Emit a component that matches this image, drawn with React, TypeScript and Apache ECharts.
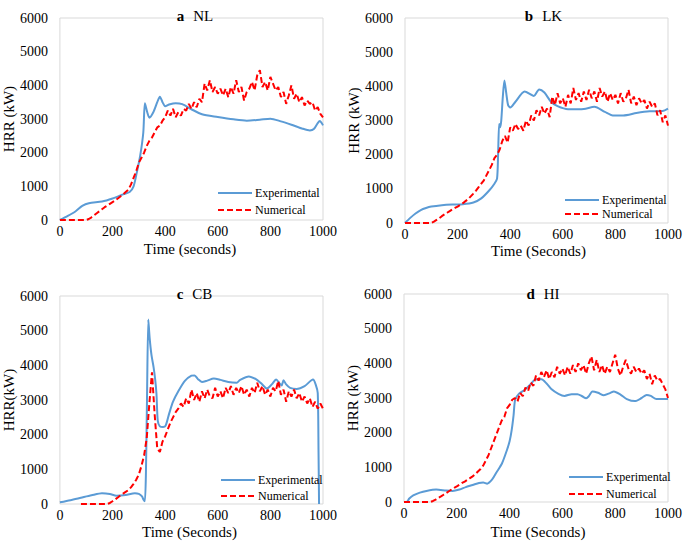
import React, { useEffect, useRef } from "react";
import * as echarts from "echarts";

// Sample times (s) for numerical series: 0,10,...,1000
const numStep = 10;

// Panel titles
const panelLetters = ["a", "b", "c", "d"];
const panelNames = ["NL", "LK", "CB", "HI"];
const xNames = ["Time (seconds)", "Time (Seconds)", "Time (Seconds)", "Time (Seconds)"];
const yNames = ["HRR (kW)", "HRR (kW)", "HRR(kW)", "HRR (kW)"];
const xTicks = [0, 200, 400, 600, 800, 1000];
const yTicks = [0, 1000, 2000, 3000, 4000, 5000, 6000];

// Experimental [time, HRR]
const expA = [[0,0],[30,120],[60,260],[85,420],[110,500],[160,550],[200,640],[240,760],[265,830],[280,1000],[292,1400],[305,1900],[317,2600],[323,3470],[332,3200],[340,3040],[355,3200],[370,3500],[380,3660],[390,3500],[400,3380],[415,3430],[440,3470],[465,3440],[500,3290],[540,3140],[600,3060],[660,2990],[710,2950],[760,2980],[800,3010],[840,2930],[880,2830],[920,2720],[950,2660],[965,2700],[980,2880],[988,2940],[995,2880],[1000,2810]];
const expB = [[0,0],[20,150],[40,280],[60,380],[80,440],[100,480],[140,520],[180,540],[220,550],[260,600],[290,720],[320,950],[340,1150],[350,1300],[354,2000],[358,2900],[362,2800],[366,3000],[372,3700],[378,4170],[385,3800],[392,3450],[400,3380],[420,3550],[455,3850],[490,3720],[510,3910],[530,3820],[555,3550],[580,3420],[620,3330],[680,3340],[720,3400],[760,3250],[790,3150],[830,3150],[880,3220],[930,3270],[980,3280],[1000,3350]];
const expC = [[0,50],[40,110],[80,180],[120,250],[160,310],[190,290],[215,240],[250,260],[285,310],[300,290],[312,220],[318,120],[323,80],[327,900],[331,3000],[336,5320],[341,4800],[348,4300],[356,3950],[362,3600],[367,3180],[372,2400],[380,2240],[392,2220],[402,2260],[415,2600],[430,2950],[450,3250],[475,3550],[500,3700],[512,3710],[525,3600],[540,3520],[560,3560],[585,3620],[610,3580],[640,3520],[672,3500],[685,3580],[718,3680],[745,3600],[765,3480],[787,3330],[805,3450],[822,3590],[835,3480],[843,3420],[850,3570],[860,3450],[875,3350],[900,3320],[930,3400],[962,3590],[972,3450],[980,3200],[983,1500],[985,0]];
const expD = [[0,0],[10,0],[20,100],[35,190],[60,270],[85,320],[122,360],[160,330],[184,320],[210,360],[234,430],[260,490],[284,550],[300,560],[315,530],[334,650],[350,850],[371,1110],[390,1500],[400,1750],[408,2080],[415,2500],[421,2950],[435,3120],[458,3240],[480,3400],[496,3530],[521,3540],[540,3420],[558,3260],[585,3120],[608,3060],[635,3110],[657,3110],[675,3050],[690,2990],[700,3050],[714,3190],[735,3150],[757,3080],[780,3140],[795,3190],[820,3100],[844,2970],[875,2910],[900,3000],[919,3090],[935,3060],[956,2970],[1000,2970]];

// Numerical HRR every 10 s from 0 to 1000
const numA = [0,0,0,0,0,0,0,0,0,0,0,30,80,140,200,260,320,380,430,480,530,580,640,700,760,830,900,1050,1250,1450,1700,1850,2000,2200,2350,2450,2600,2750,2800,2950,3050,3250,3100,3300,3050,3200,3100,3300,3250,3450,3300,3500,3350,3600,3500,4050,3850,4150,3800,3950,3750,3900,3700,3900,3650,3950,3750,4150,3800,3950,3550,3800,3900,4100,3850,4300,4450,3950,4100,3850,4250,4050,3850,3950,3650,3800,3450,3700,4000,3600,3750,3500,3650,3400,3550,3450,3500,3250,3350,3150,3050];
const numB = [0,0,0,0,0,0,0,0,0,0,0,40,90,140,200,250,300,350,400,440,480,530,580,640,700,780,860,950,1050,1150,1250,1400,1550,1700,1900,2000,2150,2400,2550,2350,2800,2700,2900,2750,2850,2700,3000,2850,3150,3000,3300,3150,3400,3200,3350,3100,3700,3450,3800,3500,3650,3400,3750,3500,3950,3600,3800,3550,3850,3600,3900,3650,3850,3550,3950,3700,3850,3550,3800,3600,3750,3500,3800,3550,3650,3900,3500,3700,3450,3650,3500,3600,3350,3550,3400,3500,3150,3300,2950,3150,2850];
const numC = [null,null,null,null,null,null,null,null,0,0,0,0,0,0,0,0,0,0,0,30,80,130,190,250,300,350,400,480,580,700,850,1100,1400,1900,2900,3800,2600,1600,1500,1800,1950,2150,2350,2500,2650,2750,2900,2800,3050,2900,3300,3000,3200,2950,3250,3050,3300,3100,3050,3350,3100,3250,3050,3350,3200,3400,3150,3350,3200,3400,3150,3300,3100,3350,3200,3500,3250,3400,3150,3300,3100,3350,3250,3550,3150,3300,2950,3250,3100,3300,3050,3200,2950,3100,2900,3050,2800,2950,2750,2900,2750];
const numD = [0,0,0,0,0,0,0,0,0,0,0,30,70,120,160,210,260,310,360,410,450,500,550,590,640,690,740,800,880,950,1050,1200,1350,1550,1750,1950,2150,2350,2450,2700,2800,2950,3000,2900,3150,3050,3300,3200,3450,3350,3650,3500,3750,3600,3800,3550,3750,3600,3900,3700,3850,3650,3900,3700,3950,3750,4000,3800,3950,3700,4000,4200,3800,4100,3750,3950,3700,3900,3750,4000,4250,3850,3650,3900,4100,3850,3700,3900,3750,3850,3700,3800,3550,3700,3400,3650,3500,3550,3400,3250,3000];

const expSets = [expA, expB, expC, expD];
const numSets = [numA, numB, numC, numD];

// layout (pixels)
const grids = [
  { left: 57, top: 18, width: 266, height: 202 },
  { left: 405, top: 18, width: 267, height: 205 },
  { left: 56, top: 296, width: 267, height: 208 },
  { left: 404, top: 294, width: 268, height: 208 },
];
const titleTops = [2, 2, 280, 280];
const xNameCenters = [249, 251, 532, 532];
const legendPos = [
  { left: 217, top: 187, gap: 5 },
  { left: 564, top: 194, gap: 2 },
  { left: 220, top: 474, gap: 4 },
  { left: 568, top: 471, gap: 5 },
];

const FONT = "Liberation Serif";
const BLUE = "#5B9BD5";
const RED = "#FF0000";

const tickRich = { t: { fontFamily: FONT, fontSize: 14, fontWeight: "normal", color: "#000" } };
const nameRich = { n: { fontFamily: FONT, fontSize: 15, fontWeight: "normal", color: "#000" } };
const legRich = { l: { fontFamily: FONT, fontSize: 12, fontWeight: "normal", color: "#000", lineHeight: 12 } };

export default function App() {
  const ref = useRef<HTMLDivElement>(null);
  useEffect(() => {
    if (!ref.current) return;
    const chart = echarts.init(ref.current, null, { renderer: "svg" });
    const option: any = {
      animation: false,
      backgroundColor: "#ffffff",
      textStyle: { fontFamily: FONT },
      title: grids.map((g, i) => ({
        text: `{b|${panelLetters[i]}}  {n|${panelNames[i]}}`,
        left: g.left + g.width / 2,
        top: titleTops[i],
        textAlign: "center",
        textStyle: {
          fontFamily: FONT,
          rich: {
            b: { fontFamily: FONT, fontSize: 15, fontWeight: "bold", color: "#000" },
            n: { fontFamily: FONT, fontSize: 15, fontWeight: "normal", color: "#000" },
          },
        },
      })),
      graphic: grids.map((g, i) => ({
        type: "text",
        x: g.left + g.width / 2,
        y: xNameCenters[i],
        style: {
          text: xNames[i],
          fontFamily: FONT,
          fontSize: 15,
          fontWeight: "normal",
          fill: "#000",
          align: "center",
          verticalAlign: "middle",
        },
      })),
      grid: grids.map((g) => ({
        left: g.left,
        top: g.top,
        width: g.width,
        height: g.height,
        show: true,
        borderColor: "#d9d9d9",
        borderWidth: 1,
        backgroundColor: "transparent",
      })),
      xAxis: grids.map((_, i) => ({
        type: "value",
        gridIndex: i,
        min: xTicks[0],
        max: xTicks[xTicks.length - 1],
        interval: 200,
        axisLine: { show: false },
        axisTick: { show: false },
        splitLine: { show: false },
        axisLabel: {
          fontFamily: FONT,
          fontSize: 14,
          color: "#000",
          margin: 4,
          rich: tickRich,
          formatter: (v: number) => `{t|${v}}`,
        },
      })),
      yAxis: grids.map((_, i) => ({
        type: "value",
        gridIndex: i,
        min: yTicks[0],
        max: yTicks[yTicks.length - 1],
        interval: 1000,
        name: `{n|${yNames[i]}}`,
        nameLocation: "middle",
        nameGap: 40,
        nameTextStyle: { fontFamily: FONT, fontSize: 15, fontWeight: "normal", color: "#000", rich: nameRich },
        axisLine: { show: false },
        axisTick: { show: false },
        splitLine: { show: false },
        axisLabel: {
          fontFamily: FONT,
          fontSize: 14,
          color: "#000",
          margin: 12,
          rich: tickRich,
          formatter: (v: number) => `{t|${v}}`,
        },
      })),
      legend: legendPos.map((p) => ({
        orient: "vertical",
        left: p.left,
        top: p.top,
        padding: 0,
        itemGap: p.gap,
        itemWidth: 34,
        itemHeight: 12,
        selectedMode: false,
        itemStyle: { opacity: 0 },
        data: ["Experimental", "Numerical"],
        formatter: "{l|{name}}",
        textStyle: { fontFamily: FONT, fontSize: 12, color: "#000", padding: [0, 0, 0, -2], rich: legRich },
      })),
      series: [
        ...expSets.map((d, i) => ({
          name: "Experimental",
          type: "line",
          xAxisIndex: i,
          yAxisIndex: i,
          data: d,
          smooth: 0.25,
          showSymbol: false,
          symbol: "none",
          lineStyle: { color: BLUE, width: 2 },
          itemStyle: { color: BLUE },
          z: 2,
        })),
        ...numSets.map((d, i) => ({
          name: "Numerical",
          type: "line",
          xAxisIndex: i,
          yAxisIndex: i,
          data: d.map((v, k) => [k * numStep, v]),
          showSymbol: false,
          symbol: "none",
          connectNulls: false,
          lineStyle: { color: RED, width: 2, type: [6, 3] },
          itemStyle: { color: RED },
          z: 3,
        })),
      ],
    };
    chart.setOption(option);
    return () => chart.dispose();
  }, []);
  return (
    <div
      ref={ref}
      style={{ position: "fixed", left: 0, top: 0, width: 685, height: 541, background: "#fff" }}
    />
  );
}
